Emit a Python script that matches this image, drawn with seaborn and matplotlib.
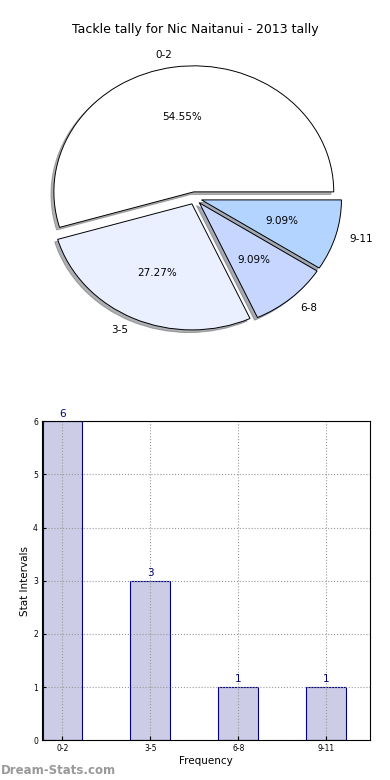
import matplotlib
matplotlib.use("Agg")
import matplotlib.pyplot as plt
import seaborn as sns
import pandas as pd

# data
categories = ["0-2", "3-5", "6-8", "9-11"]
counts = [6, 3, 1, 1]
pie_colors = ["#ffffff", "#eaf0ff", "#c6d6ff", "#b3d4ff"]
explode = [0.05, 0.05, 0.05, 0.05]

sns.set_style("white")
plt.rcParams['font.family'] = ['DejaVu Sans']
plt.rcParams['text.color'] = 'black'
plt.rcParams['axes.labelcolor'] = 'black'
plt.rcParams['xtick.color'] = 'black'
plt.rcParams['ytick.color'] = 'black'

fig = plt.figure(figsize=(3.9, 7.8), dpi=100)

# pie
ax1 = fig.add_axes([0.051, 0.544, 0.897, 0.404])
ax1.pie(counts, labels=categories, colors=pie_colors, explode=explode,
        autopct="%.2f%%", startangle=0, labeldistance=1.1,
        shadow=dict(ox=-0.015, oy=-0.015, shade=0.6),
        wedgeprops=dict(edgecolor="black", linewidth=0.7),
        textprops=dict(fontsize=7.5, color="black"))
ax1.set_xlim(-1.25, 1.25)
ax1.set_ylim(-1.25, 1.25)
ax1.set_aspect("auto")
fig.text(0.5, 1 - 30 / 780, "Tackle tally for Nic Naitanui - 2013 tally",
         ha="center", va="center", fontsize=9, color="black")

# bars
ax2 = fig.add_axes([0.108, 0.051, 0.841, 0.409])
df = pd.DataFrame({"interval": categories, "count": counts})
sns.barplot(data=df, x="interval", y="count", ax=ax2, width=0.45,
            color="#ccccE6", edgecolor="navy", linewidth=0.8, saturation=1)
ax2.set_xlim(-0.23, 3.5)
ax2.set_ylim(0, 6)
ax2.grid(True, linestyle=":", color="#999999", linewidth=0.8)
ax2.set_axisbelow(False)
for i, v in enumerate(counts):
    ax2.text(i, v + 0.05, str(v), ha="center", va="bottom", color="navy", fontsize=7.5)
ax2.set_xlabel("Frequency", fontsize=7.5, labelpad=2)
ax2.set_ylabel("Stat Intervals", fontsize=7.5, labelpad=2)
ax2.tick_params(labelsize=5.5, direction="in", length=3, pad=3, left=True, bottom=True)
for s in ax2.spines.values():
    s.set_color("black")
    s.set_linewidth(0.8)
    s.set_zorder(5)

fig.text(0.003, 1 - 771 / 780, "Dream-Stats.com", ha="left", va="center",
         fontsize=8.5, color="#999999", fontweight="bold")

fig.savefig("out.png", dpi=100)
